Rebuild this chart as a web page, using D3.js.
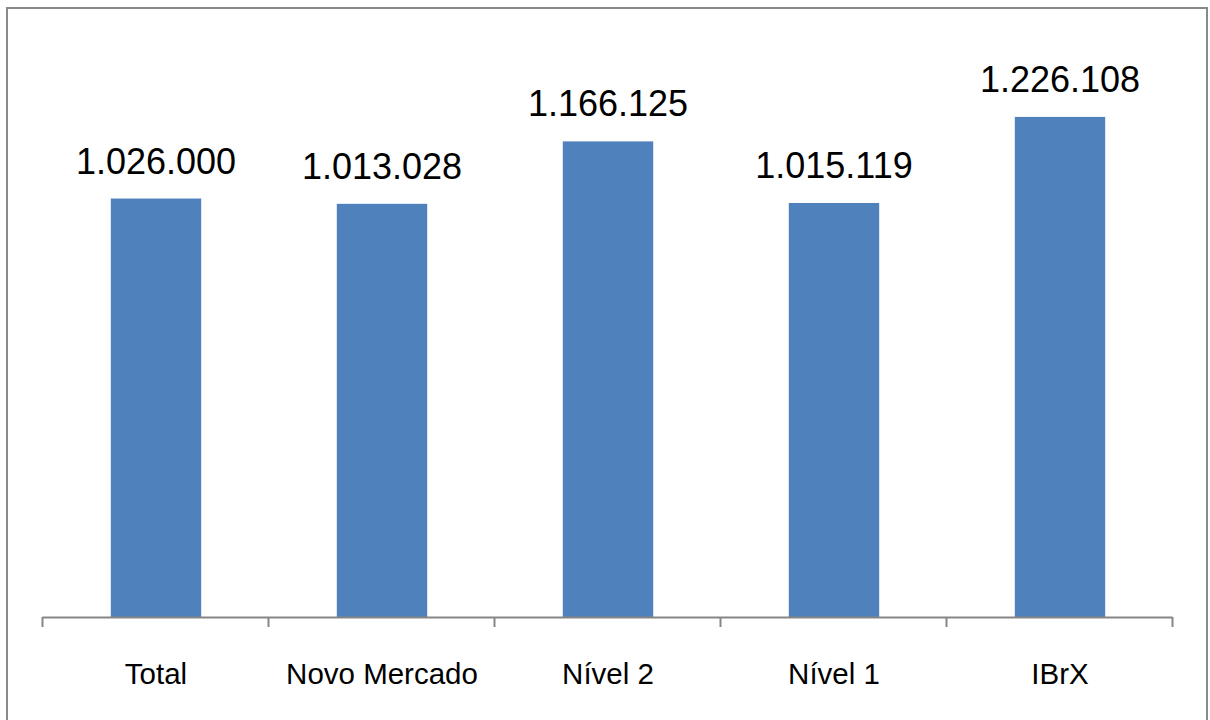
<!DOCTYPE html>
<html><head><meta charset="utf-8">
<script src="https://cdn.jsdelivr.net/npm/d3@7"></script>
<style>html,body{margin:0;padding:0;background:#fff;}svg{display:block;}</style>
</head><body>
<svg id="chart" width="1210" height="720"></svg>
<script>
const categories = ["Total", "Novo Mercado", "Nível 2", "Nível 1", "IBrX"];
const values = [1026000, 1013028, 1166125, 1015119, 1226108];
const valueLabels = ["1.026.000", "1.013.028", "1.166.125", "1.015.119", "1.226.108"];

const svg = d3.select("#chart");
const font = "Liberation Sans, Arial, sans-serif";

svg.append("rect").attr("x", 7).attr("y", 8).attr("width", 1200).attr("height", 730)
  .attr("fill", "#fff").attr("stroke", "#898989").attr("stroke-width", 2);

const x0 = 42, x1 = 1172, baseY = 617;
const x = d3.scaleBand().domain(categories).range([x0, x1]).paddingInner(0.6).paddingOuter(0.3);
const y = d3.scaleLinear().domain([0, 1400000]).range([baseY, 46]);

svg.selectAll("rect.bar").data(categories).join("rect").attr("class", "bar")
  .attr("x", d => x(d) + 1).attr("width", x.bandwidth())
  .attr("y", (d, i) => y(values[i])).attr("height", (d, i) => baseY - y(values[i]))
  .attr("fill", "#4F81BD");

svg.selectAll("text.val").data(categories).join("text").attr("class", "val")
  .attr("x", d => x(d) + 1 + x.bandwidth() / 2)
  .attr("y", (d, i) => y(values[i]) - 25)
  .attr("text-anchor", "middle").attr("font-family", font).attr("font-size", 36)
  .attr("fill", "#000").text((d, i) => valueLabels[i]);

// axis with ticks at category boundaries
const tickScale = d3.scaleLinear().domain([0, categories.length]).range([x0, x1]);
const axis = d3.axisBottom(tickScale).tickValues(d3.range(categories.length + 1))
  .tickSize(10).tickSizeOuter(0).tickFormat("");
const gAxis = svg.append("g").attr("transform", `translate(0,${baseY})`).call(axis);
gAxis.selectAll("path,line").attr("stroke", "#868686").attr("stroke-width", 2);

svg.selectAll("text.cat").data(categories).join("text").attr("class", "cat")
  .attr("x", d => x(d) + 1 + x.bandwidth() / 2).attr("y", 684)
  .attr("text-anchor", "middle").attr("font-family", font).attr("font-size", 29.5)
  .attr("fill", "#000").text(d => d);
</script>
</body></html>
